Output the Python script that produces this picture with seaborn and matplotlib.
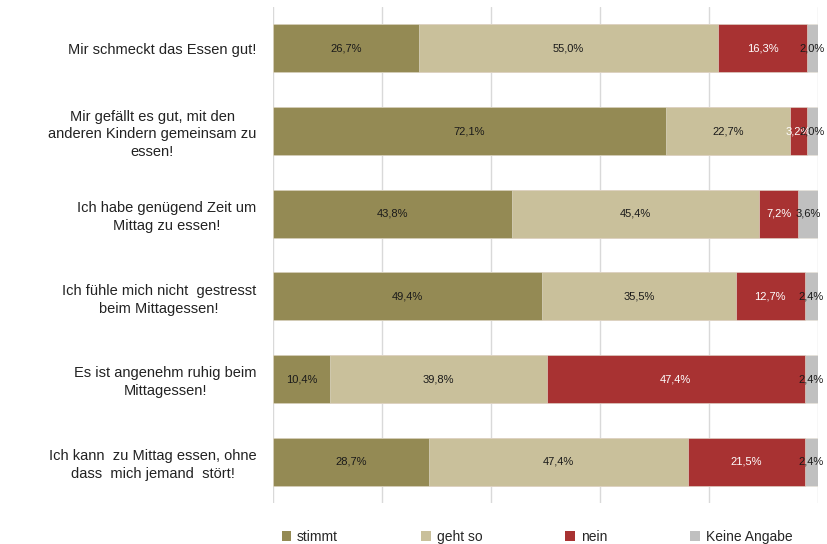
import numpy as np
import pandas as pd
import matplotlib
matplotlib.use("Agg")
import matplotlib.pyplot as plt
from matplotlib.patches import Patch
import seaborn as sns

# Survey statements (top to bottom)
statements = [
    "Mir schmeckt das Essen gut!",
    "Mir gefällt es gut, mit den\nanderen Kindern gemeinsam zu\nessen!",
    "Ich habe genügend Zeit um\nMittag zu essen!",
    "Ich fühle mich nicht  gestresst\nbeim Mittagessen!",
    "Es ist angenehm ruhig beim\nMittagessen!",
    "Ich kann  zu Mittag essen, ohne\ndass  mich jemand  stört!",
]

# Answer categories and their shares in percent
answers = ["stimmt", "geht so", "nein", "Keine Angabe"]
stimmt = [26.7, 72.1, 43.8, 49.4, 10.4, 28.7]
geht_so = [55.0, 22.7, 45.4, 35.5, 39.8, 47.4]
nein = [16.3, 3.2, 7.2, 12.7, 47.4, 21.5]
keine_angabe = [2.0, 2.0, 3.6, 2.4, 2.4, 2.4]

colors = ["#948a54", "#c9c09b", "#a83232", "#c0c0c0"]
text_colors = ["#1a1a1a", "#1a1a1a", "white", "#1a1a1a"]

sns.set_theme(style="white")
plt.rcParams["font.family"] = ["Liberation Sans", "DejaVu Sans"]

series = [stimmt, geht_so, nein, keine_angabe]
df = pd.DataFrame({"Aussage": statements})
for name, vals in zip(answers, series):
    df[name] = vals
cum = df[answers].cumsum(axis=1)

fig = plt.figure(figsize=(8.28, 5.44), dpi=100)
ax = fig.add_axes([273 / 828, 1 - 503 / 544, 545 / 828, 496 / 544])

# Stacked bars: draw cumulative totals from the widest down
for i in range(len(answers) - 1, -1, -1):
    sns.barplot(data=cum.assign(Aussage=statements), x=answers[i], y="Aussage",
                orient="h", color=colors[i], width=0.58, saturation=1,
                edgecolor="#e8e4d8", linewidth=0.4, ax=ax, order=statements)

# Percentage labels centred in each segment
for r in range(len(statements)):
    left = 0.0
    for i, name in enumerate(answers):
        v = df.loc[r, name]
        ax.text(left + v / 2, r, f"{v:.1f}%".replace(".", ","),
                ha="center", va="center", fontsize=8,
                color=text_colors[i])
        left += v

ax.set_xlim(0, 100)
ax.set_ylim(5.5, -0.5)
ax.set_xticks(np.arange(0, 101, 20))
ax.set_xticklabels([])
ax.xaxis.grid(True, color="#d9d9d9", linewidth=1.0)
ax.set_axisbelow(True)
ax.set_xlabel("")
ax.set_ylabel("")
for s in ax.spines.values():
    s.set_visible(False)
ax.tick_params(axis="y", length=0, pad=12)
ax.tick_params(axis="x", length=0)
for lab in ax.get_yticklabels():
    lab.set_multialignment("center")
    lab.set_fontsize(10.5)
    lab.set_color("#222222")
    lab.set_linespacing(1.35)

handles = [Patch(facecolor=c, edgecolor="none") for c in colors]
fig.legend(handles, answers, loc="center", bbox_to_anchor=(537 / 828, 1 - 537 / 544),
           ncol=4, frameon=False, fontsize=10, handlelength=0.7, handleheight=0.7,
           handletextpad=0.4, columnspacing=6.0)

fig.savefig("out.png", dpi=100)
